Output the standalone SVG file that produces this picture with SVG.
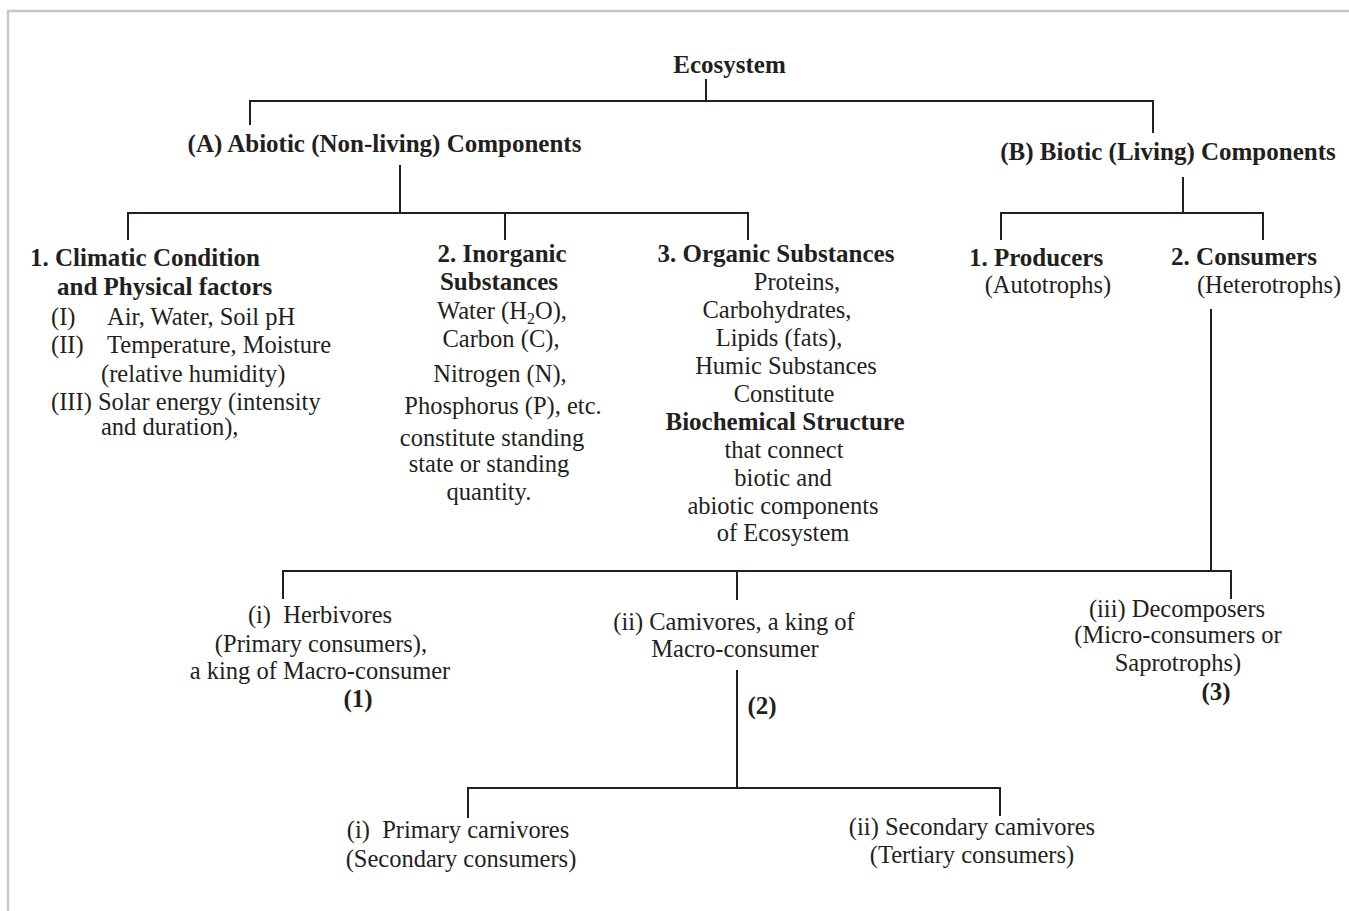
<svg xmlns="http://www.w3.org/2000/svg" width="1349" height="911" viewBox="0 0 1349 911">
<style>
text{font-family:"Liberation Serif","Times New Roman",serif;font-size:24.5px;fill:#231f20}
.b{font-weight:bold;font-size:25px}
.m{text-anchor:middle}
.c{stroke:#231f20;stroke-width:2;fill:none}
.frame{stroke:#c8c8c8;stroke-width:2.5;fill:none}
</style>
<rect width="1349" height="911" fill="#fff"/>
<path class="frame" d="M8,911 V11 H1349"/>
<g id="connectors" class="c">
<path d="M706,79 V101 M250,125 V101 H1153 V133"/>
<path d="M400,165 V213 M128,240 V213 H748 V240 M505,213 V240"/>
<path d="M1183,177 V213 M1001,240 V213 H1263 V240"/>
<path d="M1211,309 V571 M283,599 V571 H1231 V599 M737,571 V600"/>
<path d="M737,670 V788 M468,818 V788 H1000 V816"/>
</g>
<g id="ecosystem"><text class="b m" x="729.5" y="73">Ecosystem</text></g>
<g id="abiotic"><text class="b m" x="384.5" y="152">(A) Abiotic (Non-living) Components</text></g>
<g id="biotic"><text class="b m" x="1168" y="160">(B) Biotic (Living) Components</text></g>
<g id="climatic">
<text class="b" x="30" y="266">1. Climatic Condition</text>
<text class="b" x="57" y="295">and Physical factors</text>
<text x="51" y="325">(I)</text><text x="107" y="325">Air, Water, Soil pH</text>
<text x="51" y="353">(II)</text><text x="107" y="353">Temperature, Moisture</text>
<text x="101" y="382">(relative humidity)</text>
<text x="51" y="410">(III) Solar energy (intensity</text>
<text x="101" y="435">and duration),</text>
</g>
<g id="inorganic">
<text class="b m" x="502" y="262">2. Inorganic</text>
<text class="b m" x="499" y="290">Substances</text>
<text class="m" x="502" y="319">Water (H<tspan font-size="16" dy="5">2</tspan><tspan dy="-5">O),</tspan></text>
<text class="m" x="501" y="347">Carbon (C),</text>
<text class="m" x="500" y="382">Nitrogen (N),</text>
<text class="m" x="503" y="414">Phosphorus (P), etc.</text>
<text class="m" x="492" y="446">constitute standing</text>
<text class="m" x="489" y="472">state or standing</text>
<text class="m" x="489" y="500">quantity.</text>
</g>
<g id="organic">
<text class="b m" x="776" y="262">3. Organic Substances</text>
<text class="m" x="797" y="290">Proteins,</text>
<text class="m" x="777" y="318">Carbohydrates,</text>
<text class="m" x="779" y="346">Lipids (fats),</text>
<text class="m" x="786" y="374">Humic Substances</text>
<text class="m" x="784" y="402">Constitute</text>
<text class="b m" x="785" y="430">Biochemical Structure</text>
<text class="m" x="784" y="458">that connect</text>
<text class="m" x="783" y="486">biotic and</text>
<text class="m" x="783" y="514">abiotic components</text>
<text class="m" x="783" y="541">of Ecosystem</text>
</g>
<g id="producers">
<text class="b m" x="1036" y="266">1. Producers</text>
<text class="m" x="1048" y="293">(Autotrophs)</text>
</g>
<g id="consumers">
<text class="b m" x="1244" y="265">2. Consumers</text>
<text class="m" x="1269" y="293">(Heterotrophs)</text>
</g>
<g id="herbivores">
<text class="m" x="320" y="623" xml:space="preserve">(i)  Herbivores</text>
<text class="m" x="321" y="652">(Primary consumers),</text>
<text class="m" x="320" y="679">a king of Macro-consumer</text>
<text class="b m" x="358" y="707">(1)</text>
</g>
<g id="carnivores">
<text class="m" x="734" y="630">(ii) Camivores, a king of</text>
<text class="m" x="735" y="657">Macro-consumer</text>
<text class="b m" x="762" y="714">(2)</text>
</g>
<g id="decomposers">
<text class="m" x="1177" y="617">(iii) Decomposers</text>
<text class="m" x="1178" y="643">(Micro-consumers or</text>
<text class="m" x="1178" y="671">Saprotrophs)</text>
<text class="b m" x="1216" y="700">(3)</text>
</g>
<g id="primary-carnivores">
<text class="m" x="458" y="838" xml:space="preserve">(i)  Primary carnivores</text>
<text class="m" x="461" y="867">(Secondary consumers)</text>
</g>
<g id="secondary-carnivores">
<text class="m" x="972" y="835">(ii) Secondary camivores</text>
<text class="m" x="972" y="863">(Tertiary consumers)</text>
</g>
</svg>
